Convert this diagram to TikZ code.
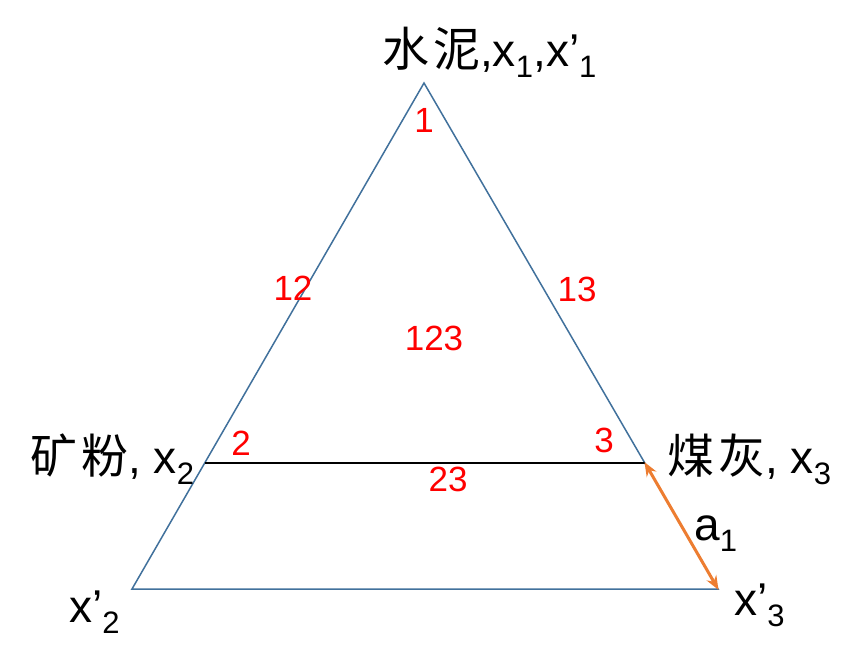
\documentclass[tikz,border=0pt]{standalone}
\usepackage{fontspec}
\setmainfont{Liberation Sans}
\newfontfamily\cjk{Noto Sans CJK SC}
\usetikzlibrary{arrows.meta}
\newcommand\mysub[1]{\raisebox{-11pt}{\fontsize{31}{31}\selectfont #1}}
\newcommand\cjkpair[2]{{\cjk\fontsize{47}{47}\selectfont #1\hspace{4pt}#2}}
\definecolor{triblue}{HTML}{41719C}
\definecolor{arrorange}{HTML}{ED7D31}
\tikzset{
  edge/.style={draw=triblue, line width=1.5pt},
  midline/.style={draw=black, line width=2pt},
  dimarrow/.style={draw=arrorange, line width=3pt, {Stealth[length=14pt,width=11pt]}-{Stealth[length=14pt,width=11pt]}, shorten <=-1pt, shorten >=-1pt},
  lbl/.style={inner sep=0pt, anchor=base west, font=\fontsize{46}{46}\selectfont},
  num/.style={inner sep=0pt, text=red, font=\fontsize{35}{35}\selectfont},
}
\begin{document}
\begin{tikzpicture}[x=1pt,y=-1pt]
\useasboundingbox (0,0) rectangle (859,663);
\fill[white] (0,0) rectangle (859,663);
% vertices
\coordinate (T) at (424,83);
\coordinate (L) at (132,589);
\coordinate (R) at (718,589);
\coordinate (A) at (205,463);
\coordinate (B) at (645,463);
% shapes
\draw[edge, line join=miter] (T) -- (L) -- (R) -- cycle;
\draw[midline] (A) -- (B);
\draw[dimarrow] (B) -- (R);
% labels
\node[lbl] (top) at (382,67) {\cjkpair{水}{泥},x\mysub{1},x’\mysub{1}};
\node[lbl] (left) at (30,473) {\cjkpair{矿}{粉}, x\mysub{2}};
\node[lbl] (right) at (667,473) {\cjkpair{煤}{灰}, x\mysub{3}};
\node[lbl] (a1) at (694,540) {a\mysub{1}};
\node[lbl] (xp2) at (69,622) {x’\mysub{2}};
\node[lbl] (xp3) at (734,615) {x’\mysub{3}};
% region numbers
\node[num] (n1) at (424,120) {1};
\node[num] (n12) at (293,288) {12};
\node[num] (n13) at (577,289) {13};
\node[num] (n123) at (434,338) {123};
\node[num] (n2) at (241,443) {2};
\node[num] (n3) at (604,440) {3};
\node[num] (n23) at (448,479) {23};
\end{tikzpicture}
\end{document}
